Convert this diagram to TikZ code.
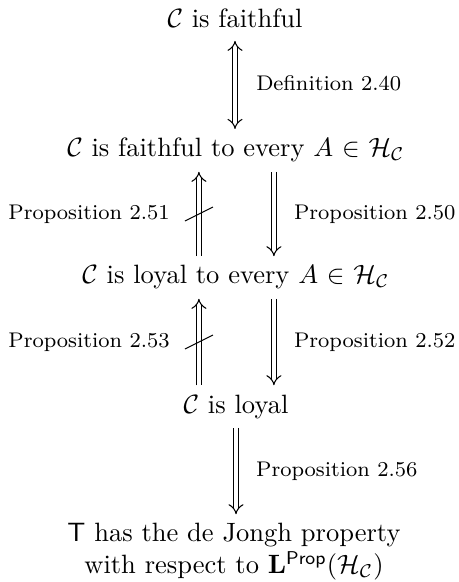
\documentclass[tikz,border=0pt]{standalone}
\usetikzlibrary{arrows.meta}
\tikzset{
  impl/.style={double, double distance=1.6pt, -Implies},
  lbl/.style={font=\footnotesize},
}
\begin{document}
\begin{tikzpicture}[x=0.3774pt,y=-0.3774pt]
\useasboundingbox (0,0) rectangle (458,582);
\node[anchor=base] (F) at (235,28) {$\mathcal{C}$ is faithful};
\node[anchor=base] (FA) at (236,157) {$\mathcal{C}$ is faithful to every $A$ $\in$ $\mathcal{H}_\mathcal{C}$};
\node[anchor=base] (LA) at (236,284) {$\mathcal{C}$ is loyal to every $A$ $\in$ $\mathcal{H}_\mathcal{C}$};
\node[anchor=base] (L) at (236,413) {$\mathcal{C}$ is loyal};
\node[align=center] (J) at (234,552) {$\mathsf{T}$ has the de Jongh property\\with respect to $\mathbf{L}^{\mathsf{Prop}}(\mathcal{H}_\mathcal{C})$};
% top
\draw[impl, Implies-Implies, shorten <=1.2pt] (F.south) -- (F.south |- FA.north) node[right=4.5pt,midway,lbl]{Definition 2.40};
% second row
\draw[impl] ([xshift=-14pt]FA.south |- LA.north) -- ([xshift=-14pt]FA.south) coordinate[midway] (s1) node[left=7.5pt,midway,lbl]{Proposition 2.51};
\draw (s1) ++(-14,7) -- ++(28,-14);
\draw[impl] ([xshift=14.3pt]FA.south) -- ([xshift=14.3pt]FA.south |- LA.north) node[right=4.1pt,midway,lbl]{Proposition 2.50};
% third row
\draw[impl] ([xshift=-14pt]LA.south |- L.north) -- ([xshift=-14pt]LA.south) coordinate[midway] (s2) node[left=7.5pt,midway,lbl]{Proposition 2.53};
\draw (s2) ++(-14,7) -- ++(28,-14);
\draw[impl] ([xshift=14.3pt]LA.south) -- ([xshift=14.3pt]LA.south |- L.north) node[right=4.1pt,midway,lbl]{Proposition 2.52};
% bottom
\draw[impl] (L.south) -- (L.south |- J.north) node[right=4.1pt,midway,lbl]{Proposition 2.56};
\end{tikzpicture}
\end{document}
